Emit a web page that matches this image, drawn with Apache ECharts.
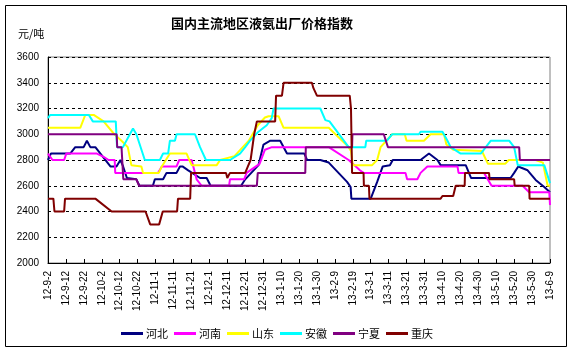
<!DOCTYPE html>
<html>
<head>
<meta charset="utf-8">
<script src="https://cdn.jsdelivr.net/npm/echarts@6/dist/echarts.min.js"></script>
<style>
  html, body { margin: 0; padding: 0; background: #fff; }
  #chart { width: 573px; height: 353px; }
</style>
</head>
<body>
<div id="chart"></div>
<script>
// x = day index counted from 12-9-2, one tick label every 10 days
const tickLabels = ["12-9-2", "12-9-12", "12-9-22", "12-10-2", "12-10-12", "12-10-22", "12-11-1",
  "12-11-11", "12-11-21", "12-12-1", "12-12-11", "12-12-21", "12-12-31", "13-1-10", "13-1-20",
  "13-1-30", "13-2-9", "13-2-19", "13-3-1", "13-3-11", "13-3-21", "13-3-31", "13-4-10", "13-4-20",
  "13-4-30", "13-5-10", "13-5-20", "13-5-30", "13-6-9"];

const seriesNames = ["河北", "河南", "山东", "安徽", "宁夏", "重庆"];

// [day, 元/吨] break points
const hebei = [[0, 2800], [1.6, 2850], [12.4, 2850], [15.2, 2900], [19.9, 2900], [21.7, 2950], [23.6, 2900],
  [26.4, 2900], [34.8, 2750], [38.2, 2750], [40.4, 2800], [41.9, 2750], [44, 2660], [49.3, 2650], [51, 2600],
  [58.5, 2600], [59.6, 2650], [64.2, 2650], [66.1, 2700], [71.7, 2700], [73.6, 2750], [75, 2750], [78.2, 2720],
  [84.8, 2660], [88.5, 2660], [90.7, 2600], [107.7, 2600], [110, 2650], [117.4, 2760], [120.2, 2920],
  [124, 2950], [129.5, 2950], [133.3, 2850], [143, 2850], [144.5, 2800], [151.9, 2800], [156.6, 2780],
  [166.8, 2630], [168.8, 2590], [169.2, 2500], [180, 2500], [183.6, 2630], [186.7, 2750], [190.7, 2760],
  [192.3, 2800], [207.8, 2800], [212.5, 2850], [217.2, 2800], [219, 2760], [233, 2760], [236, 2660],
  [258, 2660], [260, 2700], [262.3, 2750], [264, 2740], [267.5, 2720], [272, 2645], [276.8, 2590], [280, 2550]];

const henan = [[0, 2850], [2.5, 2800], [9, 2800], [10.2, 2850], [27.3, 2850], [31, 2825], [33.8, 2800],
  [37.2, 2800], [37.5, 2700], [61.4, 2700], [63.5, 2750], [71.7, 2750], [73.2, 2800], [80.1, 2800],
  [82.9, 2650], [85.7, 2600], [101, 2600], [101.5, 2650], [109.4, 2650], [110.8, 2700], [118, 2770],
  [121, 2880], [124.9, 2900], [156.6, 2900], [167.7, 2800], [174, 2720], [176, 2700], [199.4, 2700],
  [200.3, 2650], [206, 2650], [207.8, 2700], [211.6, 2750], [228.4, 2750], [229, 2700], [243.2, 2700],
  [247.4, 2600], [264.7, 2600], [268.4, 2550], [279.6, 2550], [280, 2450]];

const shandong = [[0, 3050], [18, 3050], [20.8, 3150], [25.5, 3150], [31, 3100], [37, 3000], [41, 2950],
  [44.5, 2900], [46.5, 2760], [52.1, 2750], [53, 2700], [61.8, 2700], [63.5, 2750], [68, 2850], [77.3, 2850],
  [80.1, 2760], [94.1, 2760], [96, 2800], [104, 2830], [108, 2890], [112, 2950], [117, 3070], [121, 3130],
  [123, 3140], [128.6, 3140], [131.4, 3050], [156.6, 3050], [167.7, 2900], [169, 2870], [170, 2760],
  [180.8, 2760], [183.6, 2800], [185.5, 2900], [192, 3000], [199, 3000], [200, 2950], [209.7, 2950],
  [213.4, 3000], [220.9, 3000], [222.2, 2920], [226, 2880], [242, 2870], [245.4, 2770], [255, 2770],
  [257, 2800], [272, 2800], [276, 2780], [278.7, 2600], [280, 2600]];

const anhui = [[0, 3125], [1.2, 3150], [22.8, 3150], [25, 3100], [37.8, 3100], [38.5, 2900], [41.8, 2900],
  [47.4, 3045], [49.3, 3000], [54, 2800], [62.4, 2800], [64.2, 2850], [67, 2850], [68, 2950], [70.8, 2950],
  [71.7, 3000], [82, 3000], [84.8, 2900], [88.1, 2800], [101.5, 2800], [107.1, 2850], [110, 2900],
  [112.7, 2950], [117.4, 3020], [122, 3070], [124.8, 3125], [125.8, 3200], [151.9, 3200], [154.7, 3110],
  [157, 3100], [167.7, 2900], [177, 2900], [177.5, 2950], [189, 2950], [192, 3000], [206.9, 3000],
  [207.8, 3020], [220, 3020], [222.8, 2950], [224.6, 2900], [230.2, 2850], [241.4, 2850], [247, 2950],
  [257.2, 2950], [260, 2900], [262, 2760], [276.8, 2760], [280, 2620]];

const ningxia = [[0, 3000], [38.3, 3000], [38.6, 2900], [41, 2900], [42, 2650], [49.3, 2650], [50.8, 2600],
  [116.5, 2600], [117, 2700], [143.5, 2700], [143.8, 2900], [169.6, 2900], [169.8, 3000], [187.3, 3000],
  [189.6, 2900], [262.8, 2900], [263.2, 2800], [280, 2800]];

const chongqing = [[0, 2500], [3, 2500], [3.6, 2400], [9, 2400], [9.5, 2500], [26.4, 2500], [35.5, 2400],
  [54.4, 2400], [57, 2300], [62, 2300], [64, 2400], [72, 2400], [72.5, 2500], [79.3, 2500], [79.8, 2700],
  [99.3, 2700], [100, 2660], [101.5, 2700], [110, 2700], [111.5, 2750], [113, 2800], [115, 3000],
  [116.5, 3100], [126.7, 3100], [127.2, 3300], [130.5, 3300], [131.4, 3400], [147.2, 3400], [148, 3360],
  [150, 3300], [168.3, 3300], [169, 3200], [169.6, 2700], [176, 2700], [176.2, 2600], [179, 2600],
  [179.3, 2500], [219, 2500], [220, 2520], [226, 2520], [227.4, 2600], [232.4, 2600], [232.6, 2700],
  [246, 2700], [246.3, 2650], [260, 2650], [260.3, 2600], [268.4, 2600], [268.6, 2500], [280, 2500]];

const seriesData = [hebei, henan, shandong, anhui, ningxia, chongqing];
const colors = ["#000080", "#FF00FF", "#FFFF00", "#00FFFF", "#800080", "#800000"];

const chart = echarts.init(document.getElementById("chart"));

const option = {
  animation: false,
  backgroundColor: "#fff",
  color: colors,
  textStyle: { fontFamily: "Liberation Sans, Noto Sans CJK SC" },
  title: {
    text: "国内主流地区液氨出厂价格指数",
    left: 166,
    top: 12,
    textStyle: { fontSize: 13, fontWeight: "bold", color: "#000", fontFamily: "Noto Sans CJK SC" }
  },
  graphic: [
    {
      type: "rect",
      shape: { x: 5.5, y: 5.5, width: 561, height: 341 },
      style: { fill: null, stroke: "#000", lineWidth: 1 },
      silent: true
    },
    {
      type: "text",
      left: 18,
      top: 28,
      style: { text: "元/吨", fill: "#000", font: "11px Noto Sans CJK SC" }
    }
  ],
  legend: {
    data: seriesNames,
    left: 116,
    top: 323,
    itemWidth: 22,
    itemHeight: 3,
    itemGap: 6,
    icon: "rect",
    textStyle: { fontSize: 11, color: "#000", fontFamily: "Noto Sans CJK SC", padding: [0, 0, 0, -2] }
  },
  grid: {
    left: 48,
    right: 23,
    top: 57,
    bottom: 90,
    show: true,
    borderColor: "#808080",
    borderWidth: 1
  },
  xAxis: {
    type: "value",
    min: 0,
    max: 280,
    interval: 10,
    axisLine: { lineStyle: { color: "#000", width: 1 } },
    axisTick: { inside: true, length: 4, lineStyle: { color: "#000" } },
    splitLine: { show: false },
    axisLabel: {
      rotate: 90,
      fontSize: 10,
      color: "#000",
      margin: 8,
      formatter: function (value) {
        return tickLabels[Math.round(value / 10)];
      }
    }
  },
  yAxis: {
    type: "value",
    min: 2000,
    max: 3600,
    interval: 200,
    axisLine: { show: true, lineStyle: { color: "#000", width: 1 } },
    axisTick: { show: false },
    axisLabel: {
      fontSize: 10,
      color: "#000",
      margin: 9,
      formatter: function (value) {
        return String(value);
      }
    },
    splitLine: { show: true, lineStyle: { color: "#000", type: [3, 3], width: 1 } }
  },
  series: seriesNames.map(function (name, i) {
    return {
      name: name,
      type: "line",
      data: seriesData[i],
      showSymbol: false,
      symbol: "none",
      lineStyle: { width: 2, color: colors[i] },
      itemStyle: { color: colors[i] }
    };
  })
};

chart.setOption(option);
</script>
</body>
</html>
